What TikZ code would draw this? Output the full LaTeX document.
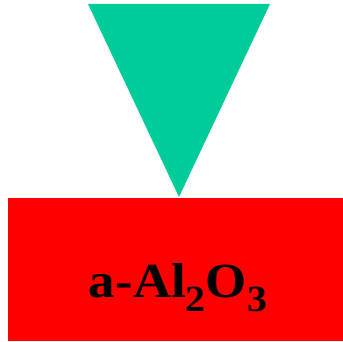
\documentclass[tikz,border=0pt]{standalone}
\usepackage{fontspec}
\setmainfont{Liberation Serif}
\usetikzlibrary{positioning}
\definecolor{tipgreen}{RGB}{0,204,153}
\definecolor{slabred}{RGB}{255,0,0}
\newcommand{\lowdigit}[1]{\raisebox{-14pt}{\fontsize{37}{38}\selectfont #1}}

\begin{document}
\begin{tikzpicture}[x=1pt,y=1pt,
 slab/.style={fill=slabred,draw=none,inner sep=0pt,minimum width=335pt,minimum height=143pt},
 tiptri/.style={fill=tipgreen,draw=none},
 formula/.style={font=\bfseries\fontsize{49}{52}\selectfont,inner sep=0pt}]
\useasboundingbox (0,0) rectangle (343,342);
\node[slab,anchor=south west] (substrate) at (8,1) {};
\coordinate (tipleft) at (88,338);
\coordinate (tipright) at (270,338);
\coordinate (apex) at (179,145);
\fill[tiptri] (tipleft) -- (tipright) -- (apex) -- cycle;
\node[formula,anchor=base] (name) at (178,44) {\scalebox{1.08}[1]{a-Al\lowdigit{2}O\lowdigit{3}}};
\end{tikzpicture}
\end{document}
